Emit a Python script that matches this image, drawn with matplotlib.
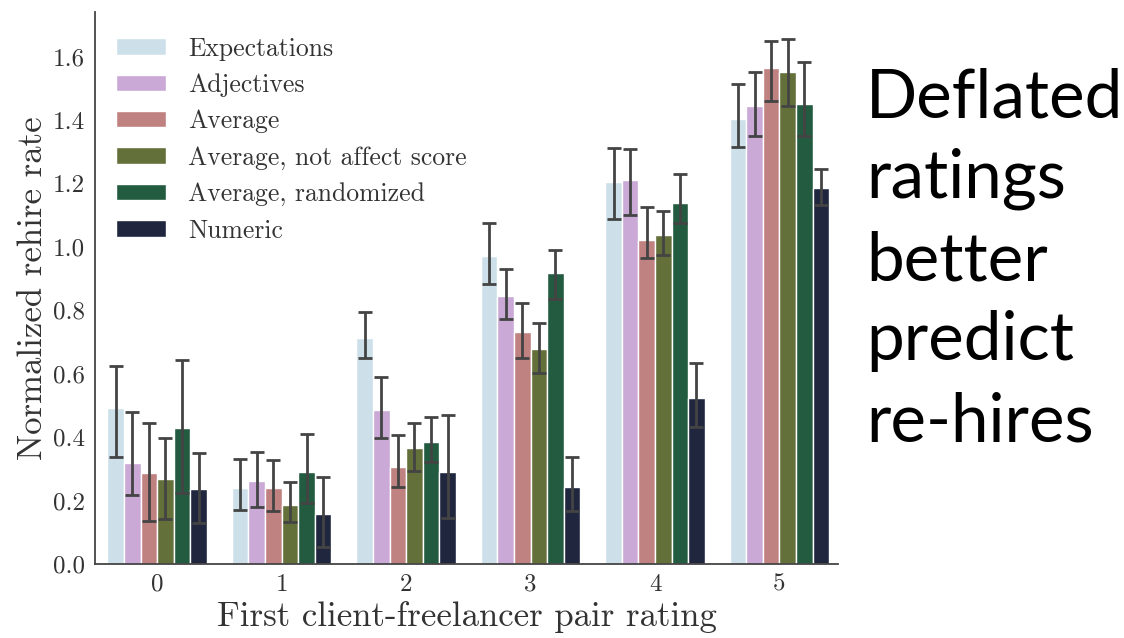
import numpy as np
import matplotlib
matplotlib.use("Agg")
from matplotlib import pyplot as plt

# рейтинги первой пары клиент-фрилансер
ratings = ["0", "1", "2", "3", "4", "5"]
series = ["Expectations", "Adjectives", "Average",
          "Average, not affect score", "Average, randomized", "Numeric"]

# средние значения (строка = серия, столбец = рейтинг)
means = [
    [0.493, 0.239, 0.712, 0.971, 1.203, 1.403],
    [0.319, 0.262, 0.486, 0.845, 1.211, 1.443],
    [0.286, 0.239, 0.305, 0.732, 1.022, 1.564],
    [0.267, 0.187, 0.365, 0.677, 1.036, 1.551],
    [0.430, 0.289, 0.384, 0.916, 1.138, 1.449],
    [0.236, 0.157, 0.291, 0.244, 0.523, 1.184],
]
# нижние и верхние границы доверительных интервалов
ci_low = [
    [0.337, 0.171, 0.649, 0.882, 1.088, 1.314],
    [0.218, 0.181, 0.396, 0.772, 1.099, 1.348],
    [0.137, 0.167, 0.242, 0.649, 0.965, 1.460],
    [0.141, 0.131, 0.292, 0.603, 0.973, 1.443],
    [0.223, 0.191, 0.320, 0.835, 1.075, 1.348],
    [0.130, 0.053, 0.146, 0.168, 0.433, 1.132],
]
ci_high = [
    [0.624, 0.331, 0.793, 1.076, 1.312, 1.514],
    [0.479, 0.352, 0.588, 0.931, 1.309, 1.550],
    [0.444, 0.329, 0.408, 0.822, 1.127, 1.649],
    [0.398, 0.259, 0.445, 0.759, 1.114, 1.656],
    [0.643, 0.410, 0.462, 0.991, 1.229, 1.583],
    [0.349, 0.275, 0.470, 0.337, 0.635, 1.245],
]

# подпись справа, по строкам
caption = ["Deflated", "ratings", "better", "predict", "re-hires"]

colors = ["#cde0ea", "#caa9d7", "#c08281", "#64703a", "#235b41", "#1f263d"]

plt.rcParams["font.family"] = "serif"
plt.rcParams["font.serif"] = ["cmr10", "DejaVu Serif"]
plt.rcParams["axes.formatter.use_mathtext"] = True
plt.rcParams["text.color"] = "#333333"

fig = plt.figure(figsize=(11.24, 6.38), dpi=100)
ax = fig.add_axes([0.0845, 0.116, 0.661, 0.865])

x = np.arange(len(ratings))
n = len(series)
w = 0.8 / n
for i, name in enumerate(series):
    m = np.array(means[i])
    lo = m - np.array(ci_low[i])
    hi = np.array(ci_high[i]) - m
    ax.bar(x - 0.4 + w * (i + 0.5), m, width=w, color=colors[i],
           edgecolor="white", linewidth=1, label=name)
    ax.errorbar(x - 0.4 + w * (i + 0.5), m, yerr=[lo, hi], fmt="none",
                ecolor="#444444", elinewidth=2, capsize=5, capthick=2)

ax.set_xlim(-0.5, 5.47)
ax.set_ylim(0, 1.74)
ax.set_xticks(x)
ax.set_xticklabels(ratings)
ax.set_yticks(np.arange(0, 1.61, 0.2))
ax.set_yticklabels([f"{v:.1f}" for v in np.arange(0, 1.61, 0.2)])
ax.tick_params(labelsize=18, colors="#333333", length=0, pad=7)
for s in ["top", "right"]:
    ax.spines[s].set_visible(False)
for s in ["left", "bottom"]:
    ax.spines[s].set_color("#444444")
    ax.spines[s].set_linewidth(1.3)

ax.set_xlabel("First client-freelancer pair rating", fontsize=25, color="#333333", labelpad=4)
ax.set_ylabel("Normalized rehire rate", fontsize=25, color="#333333", labelpad=3)

ax.legend(loc="upper left", frameon=False, fontsize=18.5, handlelength=1.95,
          handleheight=0.6, labelspacing=0.49, handletextpad=0.85,
          bbox_to_anchor=(-0.003, 0.997), labelcolor="#333333")

baselines = [118, 198, 280, 360, 442]
for word, py in zip(caption, baselines):
    fig.text(866 / 1124, 1 - py / 638, word, fontsize=48.5,
             family=["Lato", "DejaVu Sans"], color="black",
             va="baseline", ha="left")

fig.savefig("out.png", dpi=100)
